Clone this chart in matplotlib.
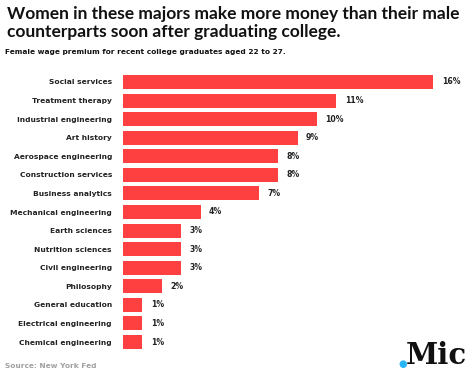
import matplotlib.pyplot as plt

majors = ["Social services", "Treatment therapy", "Industrial engineering", "Art history",
          "Aerospace engineering", "Construction services", "Business analytics",
          "Mechanical engineering", "Earth sciences", "Nutrition sciences",
          "Civil engineering", "Philosophy", "General education",
          "Electrical engineering", "Chemical engineering"]
premium = [16, 11, 10, 9, 8, 8, 7, 4, 3, 3, 3, 2, 1, 1, 1]

W, H = 474, 373
fig = plt.figure(figsize=(W / 100, H / 100), dpi=100)
fig.patch.set_facecolor("white")
plt.rcParams["font.family"] = ["DejaVu Sans"]

# axes placed in pixel units
left, right, top, bottom = 123, 474, 72.7, 351.3
ax = fig.add_axes([left / W, (H - bottom) / H, (right - left) / W, (bottom - top) / H])
ypos = list(range(len(majors)))
ax.barh(ypos, premium, height=0.75, color="#ff4040")
ax.set_xlim(0, (right - left) / 19.4)
ax.set_ylim(len(majors) - 0.5, -0.5)
for s in ax.spines.values():
    s.set_visible(False)
ax.set_xticks([])
ax.set_yticks(ypos)
ax.set_yticklabels(majors, fontsize=5.4, fontweight="bold", color="#222222")
ax.tick_params(axis="y", length=0, pad=8)

for y, v in zip(ypos, premium):
    ax.annotate(f"{v}%", (v, y), xytext=(6, 0), textcoords="offset points",
                va="center", ha="left", fontsize=5.6, fontweight="bold", color="#222222")

title = fig.text(7 / W, 1 - 6 / H, "Women in these majors make more money than their male\n"
                 "counterparts soon after graduating college.",
                 ha="left", va="top", fontsize=13, fontweight="bold", family="Lato",
                 color="#111111", linespacing=1.12)
# shrink title so the first line spans about 453 px like the original
r = fig.canvas.get_renderer()
w = title.get_window_extent(r).width
title.set_fontsize(13 * 453 / w)

fig.text(5 / W, 1 - 52 / H, "Female wage premium for recent college graduates aged 22 to 27.",
         ha="left", va="center", fontsize=5.3, fontweight="bold", color="#111111")
fig.text(5 / W, 1 - 366 / H, "Source: New York Fed", ha="left", va="center",
         fontsize=5.3, fontweight="bold", color="#a0a0a0")

# Mic logo
fig.text(403 / W, 1 - 364 / H, "\u25cf", ha="center", va="center", fontsize=7, color="#29b6f6")
fig.text(406 / W, 1 - 356 / H, "Mic", ha="left", va="center", fontsize=21,
         fontweight="heavy", family="DejaVu Serif", color="#111111")

fig.savefig("out.png", dpi=100, facecolor="white")
